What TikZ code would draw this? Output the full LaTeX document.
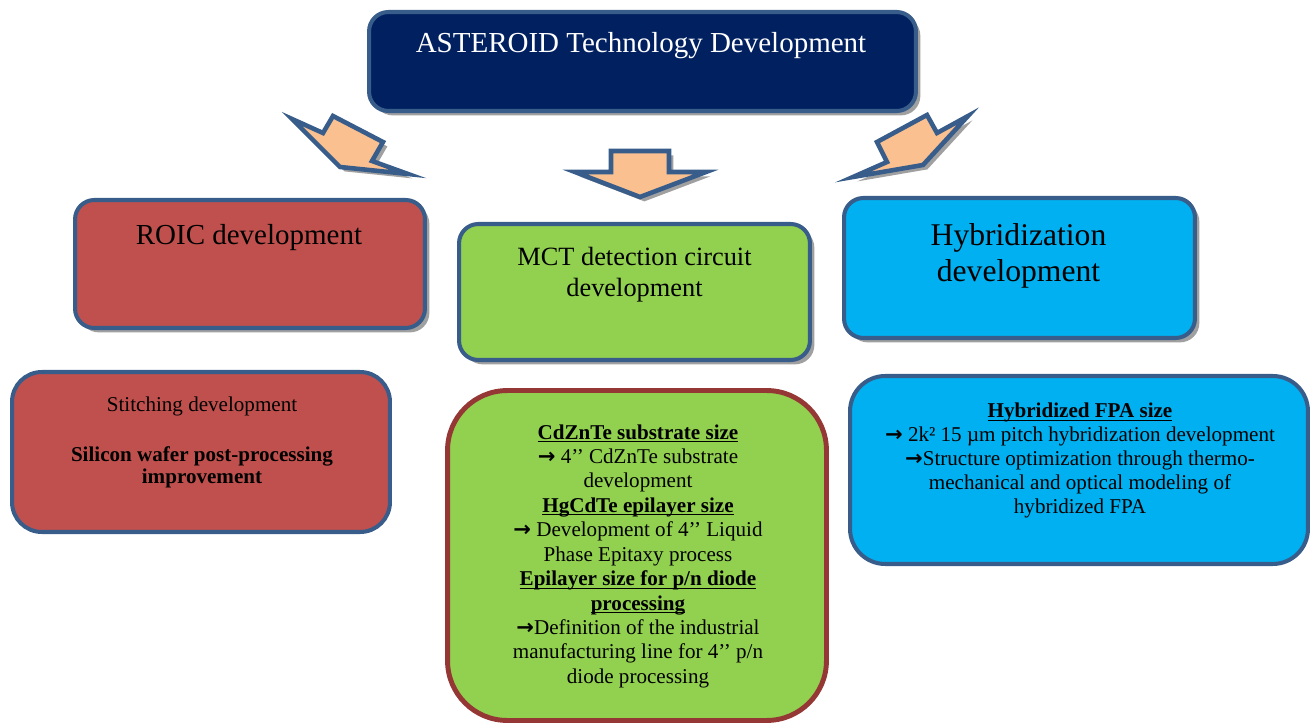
\documentclass[tikz,border=0pt]{standalone}
\usepackage{fontspec}
\setmainfont{Liberation Serif}
\newfontfamily\arrowfont{DejaVu Sans}
\usetikzlibrary{shadows}

\definecolor{navyfill}{RGB}{0,32,96}
\definecolor{edgeblue}{RGB}{56,93,138}
\definecolor{roicred}{RGB}{192,80,77}
\definecolor{mctgreen}{RGB}{146,208,80}
\definecolor{hybblue}{RGB}{0,176,240}
\definecolor{arrowfill}{RGB}{250,192,144}
\definecolor{mctedge}{RGB}{149,55,53}
\definecolor{shadowgray}{RGB}{160,160,160}

\newcommand{\goesto}{{\arrowfont\bfseries →}}
\newcommand{\inch}{’{}’}
\newcommand{\headline}[1]{\underline{\smash{\textbf{#1}}}}

\tikzset{
  grayshadow/.style={drop shadow={shadow xshift=2.5pt, shadow yshift=-2.5pt, fill=shadowgray, opacity=1}},
  devbox/.style={draw=edgeblue, line width=2.3pt, rounded corners=11pt, grayshadow},
  taskbox/.style={draw=edgeblue, line width=2.3pt, rounded corners=17pt},
  flowarrow/.style={fill=arrowfill, draw=edgeblue, line width=2.6pt, line join=miter, grayshadow},
  boxtext/.style={align=center, inner sep=0pt, font=\fontsize{12}{12.6}\selectfont},
}

\begin{document}
\begin{tikzpicture}[x=0.02cm, y=-0.02cm]
        \useasboundingbox (0,0) rectangle (1316,726);

        % The main topic
        \node[devbox, fill=navyfill, minimum width=10.94cm, minimum height=1.98cm] (asteroid) at (642.5,61.5) {};
        \node[text=white, inner sep=0pt, font=\fontsize{16.5}{20}\selectfont] (asteroidtext) at (641,46) {ASTEROID Technology Development};

        % The three block arrows
        \draw[flowarrow] (292,119) -- (323,133) -- (333,116) -- (383,142) -- (372,161) -- (408,174) -- (340,167) -- cycle;
        \draw[flowarrow] (611,151) -- (669,151) -- (669,172) -- (706,172) -- (640,197) -- (575,172) -- (611,172) -- cycle;
        \draw[flowarrow] (877,142) -- (927,115) -- (937,133) -- (968,116) -- (923,165) -- (853,177) -- (887,162) -- cycle;

        % The three development branches
        \node[devbox, fill=roicred, minimum width=7cm, minimum height=2.56cm] (roic) at (250,264) {};
        \node[inner sep=0pt, font=\fontsize{16.5}{20}\selectfont] (roictext) at (249,238) {ROIC development};

        \node[devbox, fill=mctgreen, minimum width=7.02cm, minimum height=2.72cm] (mct) at (634.5,292) {};
        \node[align=center, inner sep=0pt, font=\fontsize{15}{17.5}\selectfont] (mcttext) at (634.5,275) {MCT detection circuit\\development};

        \node[devbox, fill=hybblue, minimum width=7.02cm, minimum height=2.8cm] (hyb) at (1019.5,268) {};
        \node[align=center, inner sep=0pt, font=\fontsize{18}{20.4}\selectfont] (hybtext) at (1018.5,256) {Hybridization\\development};

        % The tasks of each branch
        \node[taskbox, fill=roicred, minimum width=7.56cm, minimum height=3.2cm] (stitch) at (201,452) {};
        \node[boxtext] (stitchtext) at (202,442.5) {Stitching development\\[15.5pt]
          \textbf{Silicon wafer post-processing}\\ \textbf{improvement}};

        \node[taskbox, draw=mctedge, line width=2.8pt, rounded corners=34pt, fill=mctgreen, minimum width=7.58cm, minimum height=6.6cm] (mcttask) at (637,555.5) {};
        \node[boxtext, font=\fontsize{12}{13.9}\selectfont] (mcttasktext) at (638,563.5) {\headline{CdZnTe substrate size}\\
          \goesto{} 4\inch{} CdZnTe substrate\\ development\\
          \headline{HgCdTe epilayer size}\\
          \goesto{} Development of 4\inch{} Liquid\\ Phase Epitaxy process\\
          \headline{Epilayer size for p/n diode}\\ \headline{processing}\\
          \goesto Definition of the industrial\\ manufacturing line for 4\inch{} p/n\\ diode processing};

        \node[taskbox, rounded corners=20pt, fill=hybblue, minimum width=9.16cm, minimum height=3.76cm] (hybtask) at (1079,470) {};
        \node[boxtext, font=\fontsize{12}{13.7}\selectfont] (hybtasktext) at (1080,468) {\headline{Hybridized FPA size}\\
          \goesto{} 2k² 15 µm pitch hybridization development\\
          \goesto Structure optimization through thermo-\\ mechanical and optical modeling of\\ hybridized FPA};
    \end{tikzpicture}
\end{document}
